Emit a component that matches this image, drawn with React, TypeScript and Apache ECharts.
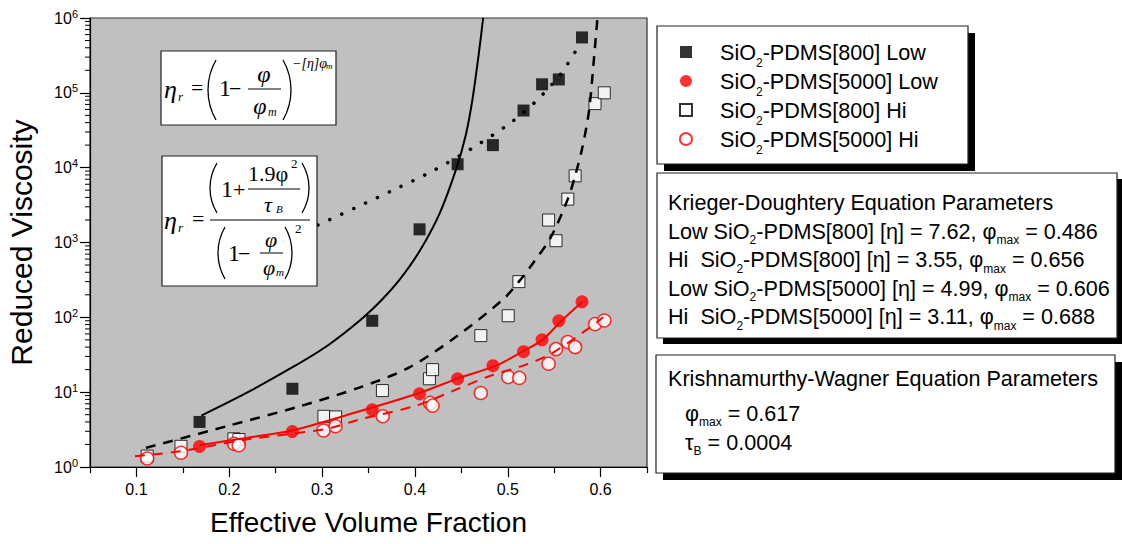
import React, { useEffect, useRef } from 'react';
import * as echarts from 'echarts';

// ---------- data ----------
const xLabelTicks = [0.1, 0.2, 0.3, 0.4, 0.5, 0.6];
const xMinorTicks = [0.05, 0.15, 0.25, 0.35, 0.45, 0.55, 0.65];
const yMinorTicks: number[] = [];
for (let k = 0; k < 6; k++) for (let m = 2; m <= 9; m++) yMinorTicks.push(m * Math.pow(10, k));

const seriesNames = ['SiO2-PDMS[800] Low', 'SiO2-PDMS[5000] Low', 'SiO2-PDMS[800] Hi', 'SiO2-PDMS[5000] Hi'];

const low800 = [[0.168, 4.0], [0.268, 11.1], [0.354, 90], [0.405, 1500], [0.446, 11100], [0.484, 20000], [0.517, 58000], [0.537, 130000], [0.555, 151000], [0.58, 550000]];
const low5000 = [[0.168, 1.88], [0.268, 2.97], [0.354, 5.8], [0.405, 9.5], [0.446, 15.1], [0.484, 22.6], [0.517, 34.7], [0.537, 50], [0.555, 90], [0.58, 161]];
const hi800 = [[0.1116, 1.4], [0.148, 1.89], [0.205, 2.38], [0.2105, 2.33], [0.302, 4.76], [0.3145, 4.67], [0.365, 10.5], [0.4156, 15.1], [0.419, 20], [0.471, 57], [0.5005, 105], [0.512, 300], [0.544, 1995], [0.552, 1057], [0.5647, 3800], [0.5726, 7780], [0.594, 71800], [0.604, 100000]];
const hi5000 = [[0.1116, 1.3], [0.148, 1.55], [0.2052, 2.04], [0.2102, 1.95], [0.3016, 3.07], [0.3145, 3.5], [0.3654, 4.76], [0.4163, 7.18], [0.419, 6.6], [0.471, 9.76], [0.5005, 15.9], [0.5124, 15.5], [0.544, 24], [0.552, 37.6], [0.5647, 46.7], [0.5726, 40], [0.594, 81], [0.604, 90.7]];

// fit curves
const fitLow800 = [[0.17, 4.86], [0.2185, 9.76], [0.2686, 21.7], [0.3045, 40.8], [0.3403, 90], [0.3636, 168], [0.3833, 316], [0.4048, 760], [0.4263, 2400], [0.4443, 9500], [0.455, 28000], [0.4622, 85000], [0.4694, 380000], [0.4735, 1000000]];
const fitHi800 = [[0.1102, 1.8], [0.197, 3.5], [0.2758, 6.47], [0.34, 11.5], [0.394, 21.4], [0.4443, 55], [0.4944, 171], [0.512, 300], [0.527, 525], [0.546, 1150], [0.5647, 3800], [0.5726, 7780], [0.5805, 18900], [0.5876, 58400], [0.593, 300000], [0.5966, 1000000]];
const kwLow800 = [[0.2955, 1711], [0.3368, 2946], [0.379, 5170], [0.4202, 9180], [0.4622, 18360], [0.5038, 40460], [0.5314, 79400], [0.5572, 180000], [0.575, 395000]];
const fitLow5000 = [[0.168, 1.95], [0.2185, 2.45], [0.2686, 3.1], [0.3403, 5.55], [0.4048, 9.76], [0.4478, 15.5], [0.4873, 22.6], [0.5159, 35], [0.5374, 50], [0.5589, 92.6], [0.5804, 162]];
const fitHi5000 = [[0.0984, 1.39], [0.1468, 1.62], [0.2185, 2.33], [0.3045, 3.23], [0.34, 4.3], [0.401, 6.6], [0.4443, 10.8], [0.48, 16.3], [0.5196, 23.3], [0.548, 33.3], [0.595, 83.7], [0.6027, 100]];

const kdTitle = 'Krieger-Doughtery Equation Parameters';
const kdRows = [
  ['Low SiO', '-PDMS[800] [η] = 7.62, φ', ' = 0.486'],
  ['Hi  SiO', '-PDMS[800] [η] = 3.55, φ', ' = 0.656'],
  ['Low SiO', '-PDMS[5000] [η] = 4.99, φ', ' = 0.606'],
  ['Hi  SiO', '-PDMS[5000] [η] = 3.11, φ', ' = 0.688'],
];
const kwTitle = 'Krishnamurthy-Wagner Equation Parameters';
const kwPhiMax = '0.617';
const kwTauB = '0.0004';

// ---------- styling helpers ----------
const sans = "'Liberation Sans', Arial, sans-serif";
const serif = "'Liberation Serif', 'Times New Roman', serif";
const boxFont = 21.6;

const boxRich = {
  a: { fontSize: boxFont, fontFamily: sans, color: '#000' },
  s: { fontSize: 12, fontFamily: sans, color: '#000', padding: [18, 0, 0, 0] },
};
const legendRich = {
  a: { fontSize: boxFont, fontFamily: sans, color: '#000' },
  s: { fontSize: 12, fontFamily: sans, color: '#000', padding: [22, 0, 0, 0] },
};
const squareIcon = 'path://M0,0H10V10H0Z';

function tx(text: string, x: number, y: number, size: number, opts: any = {}) {
  return {
    type: 'text', z: 101, x, y,
    style: {
      text, fontFamily: opts.family || serif, fontSize: size,
      fontStyle: opts.italic ? 'italic' : 'normal', fill: '#000',
      align: opts.align || 'left', verticalAlign: 'middle', rich: opts.rich,
    },
  };
}
function paren(xEdge: number, yTop: number, yBot: number, sag: number, left: boolean) {
  const half = (yBot - yTop) / 2, cy = (yTop + yBot) / 2;
  const r = (half * half + sag * sag) / (2 * sag);
  const a = Math.asin(half / r);
  return {
    type: 'arc', z: 101,
    shape: left ? { cx: xEdge + r, cy, r, startAngle: Math.PI - a, endAngle: Math.PI + a }
      : { cx: xEdge - r, cy, r, startAngle: -a, endAngle: a },
    style: { stroke: '#000', lineWidth: 1.3, fill: 'none' },
  };
}
function hline(x1: number, x2: number, y: number) {
  return { type: 'line', z: 101, shape: { x1, y1: y, x2, y2: y }, style: { stroke: '#000', lineWidth: 1 } };
}
function box(x: number, y: number, w: number, h: number, shadow: number, z = 100) {
  const els: any[] = [];
  if (shadow) els.push({ type: 'rect', z, shape: { x: x + shadow, y: y + shadow, width: w, height: h }, style: { fill: '#000' } });
  els.push({ type: 'rect', z, shape: { x, y, width: w, height: h }, style: { fill: '#fff', stroke: '#222', lineWidth: 1.2 } });
  return els;
}

function buildGraphics() {
  const g: any[] = [];
  // formula 1
  g.push(...box(161, 51, 175, 74, 0));
  g.push(tx('η', 164, 89, 26, { italic: true }));
  g.push(tx('r', 178, 96, 13, { italic: true }));
  g.push(tx('=', 191, 87, 22));
  g.push(paren(208, 60, 120, 8, true));
  g.push(tx('1', 219, 88, 24));
  g.push(tx('−', 229, 88, 22));
  g.push(tx('φ', 264, 74, 24, { italic: true, align: 'center' }));
  g.push(hline(248, 281, 89));
  g.push(tx('φ', 260, 106, 24, { italic: true, align: 'center' }));
  g.push(tx('m', 268, 112, 12, { italic: true }));
  g.push(paren(291, 60, 120, 8, false));
  g.push(tx('−[η]φ', 292, 63, 14, { italic: true }));
  g.push(tx('m', 326, 66, 9, { italic: true }));
  // formula 2
  g.push(...box(162, 156, 155, 130, 0));
  g.push(tx('η', 164, 220, 26, { italic: true }));
  g.push(tx('r', 178, 227, 13, { italic: true }));
  g.push(tx('=', 192, 218, 22));
  g.push(hline(210, 310, 220));
  g.push(paren(210, 163, 213, 7, true));
  g.push(tx('1', 221, 189, 24));
  g.push(tx('+', 233, 189, 22));
  g.push(tx('1.9φ', 248, 173, 22));
  g.push(tx('2', 291, 163, 13));
  g.push(hline(248, 300, 189));
  g.push(tx('τ', 268, 204, 22, { italic: true, align: 'center' }));
  g.push(tx('B', 276, 209, 11, { italic: true }));
  g.push(paren(309, 163, 213, 7, false));
  g.push(paren(218, 227, 279, 7, true));
  g.push(tx('1', 228, 253, 24));
  g.push(tx('−', 238, 253, 22));
  g.push(tx('φ', 271, 239, 22, { italic: true, align: 'center' }));
  g.push(hline(260, 283, 253));
  g.push(tx('φ', 269, 267, 22, { italic: true, align: 'center' }));
  g.push(tx('m', 276, 272, 11, { italic: true }));
  g.push(paren(292, 227, 279, 7, false));
  g.push(tx('2', 295, 228, 13));

  // legend box (legend component drawn above)
  g.push(...box(657, 26, 311, 138, 7, 5));
  // KD box
  g.push(...box(657, 173, 460, 165, 6));
  g.push(tx(kdTitle, 668, 202, boxFont, { family: sans }));
  const kdY = [231, 259.5, 288, 316.5];
  kdRows.forEach((r, i) => {
    g.push(tx(`{a|${r[0]}}{s|2}{a|${r[1]}}{s|max}{a|${r[2]}}`, 668, kdY[i], boxFont, { family: sans, rich: boxRich }));
  });
  // KW box
  g.push(...box(656, 355, 459, 118, 7));
  g.push(tx(kwTitle, 668, 378, boxFont, { family: sans }));
  g.push(tx(`{a|φ}{s|max}{a| = ${kwPhiMax}}`, 685, 413, boxFont, { family: sans, rich: boxRich }));
  g.push(tx(`{a|τ}{s|B}{a| = ${kwTauB}}`, 685, 442, boxFont, { family: sans, rich: boxRich }));
  return g;
}

function buildOption(): any {
  const lineBase = { type: 'line', showSymbol: false, smooth: 0.3, z: 4, silent: true, xAxisIndex: 0, yAxisIndex: 0 };
  return {
    animation: false,
    backgroundColor: '#fff',
    grid: { left: 90, right: 475, top: 18, bottom: 77, show: true, backgroundColor: '#c0c0c0', borderColor: '#333', borderWidth: 1.2 },
    xAxis: [
      {
        type: 'value', min: 0.05, max: 0.65,
        name: 'Effective Volume Fraction', nameLocation: 'middle', nameGap: 41,
        nameTextStyle: { fontSize: 28, fontFamily: sans, color: '#000' },
        axisLine: { onZero: false, lineStyle: { color: '#000', width: 1.2 } },
        axisTick: { customValues: xLabelTicks, length: 10, lineStyle: { color: '#000', width: 1.2 } },
        axisLabel: { customValues: xLabelTicks, fontSize: 16, fontFamily: sans, color: '#000', margin: 14 },
        splitLine: { show: false },
      },
      {
        type: 'value', min: 0.05, max: 0.65, position: 'bottom',
        axisLine: { show: false },
        axisTick: { customValues: xMinorTicks, length: 6, lineStyle: { color: '#000', width: 1.2 } },
        axisLabel: { show: false }, splitLine: { show: false },
      },
    ],
    yAxis: {
      type: 'log', logBase: 10, min: 1, max: 1000000, splitNumber: 6,
      name: 'Reduced Viscosity', nameLocation: 'middle', nameGap: 54,
      nameTextStyle: { fontSize: 30, fontFamily: sans, color: '#000' },
      axisLine: { lineStyle: { color: '#000', width: 1.2 } },
      axisTick: { length: 10, lineStyle: { color: '#000', width: 1.2 } },
      axisLabel: {
        margin: 12,
        formatter: (v: number) => `{b|10}{p|${Math.round(Math.log10(v))}}`,
        rich: {
          b: { fontSize: 16, fontFamily: sans, color: '#000' },
          p: { fontSize: 11, fontFamily: sans, color: '#000', padding: [0, 0, 9, 0] },
        },
      },
      splitLine: { show: false },
    },
    legend: {
      orient: 'vertical', left: 679, top: 41, z: 20,
      itemWidth: 58, itemHeight: 12, itemGap: 1, padding: 0, symbolKeepAspect: true,
      data: [
        { name: seriesNames[0], icon: squareIcon },
        { name: seriesNames[1], icon: 'circle' },
        { name: seriesNames[2], icon: squareIcon },
        { name: seriesNames[3], icon: 'circle' },
      ],
      formatter: (name: string) => `{a|SiO}{s|2}{a|${name.slice(4)}}`,
      textStyle: { rich: legendRich },
    },
    graphic: { elements: buildGraphics() },
    series: [
      { name: seriesNames[0], type: 'scatter', symbol: 'rect', symbolSize: 12, data: low800, itemStyle: { color: '#000' }, z: 3 },
      { name: seriesNames[1], type: 'scatter', symbol: 'circle', symbolSize: 13, data: low5000, itemStyle: { color: '#ff0000' }, z: 3 },
      { name: seriesNames[2], type: 'scatter', symbol: 'rect', symbolSize: 12, data: hi800, itemStyle: { color: '#fff', borderColor: '#000', borderWidth: 1 }, z: 3 },
      { name: seriesNames[3], type: 'scatter', symbol: 'circle', symbolSize: 13, data: hi5000, itemStyle: { color: '#fff', borderColor: '#ff0000', borderWidth: 1.5 }, z: 3 },
      { ...lineBase, name: 'fitLow800', data: fitLow800, lineStyle: { color: '#000', width: 2 } },
      { ...lineBase, name: 'fitHi800', data: fitHi800, lineStyle: { color: '#000', width: 2.5, type: [10, 8] } },
      { ...lineBase, name: 'kwLow800', data: kwLow800, lineStyle: { color: '#000', width: 3.5, type: [0.1, 13], cap: 'round' } },
      { ...lineBase, name: 'fitLow5000', data: fitLow5000, lineStyle: { color: '#ff0000', width: 2 } },
      { ...lineBase, name: 'fitHi5000', data: fitHi5000, lineStyle: { color: '#ff0000', width: 2, type: [10, 8] } },
      {
        type: 'custom', name: 'yMinor', silent: true, clip: false, z: 5,
        data: yMinorTicks.map((v) => [0.05, v]),
        encode: { x: 0, y: 1 },
        renderItem: (params: any, api: any) => {
          const p = api.coord([0.05, api.value(1)]);
          return { type: 'line', shape: { x1: p[0] - 5, y1: p[1], x2: p[0], y2: p[1] }, style: { stroke: '#000', lineWidth: 1 } };
        },
      },
    ],
  };
}

export default function App() {
  const ref = useRef<HTMLDivElement>(null);
  useEffect(() => {
    const chart = echarts.init(ref.current!, null, { renderer: 'svg' });
    chart.setOption(buildOption());
    return () => chart.dispose();
  }, []);
  return <div ref={ref} style={{ position: 'absolute', left: 0, top: 0, width: 1122, height: 544 }} />;
}
